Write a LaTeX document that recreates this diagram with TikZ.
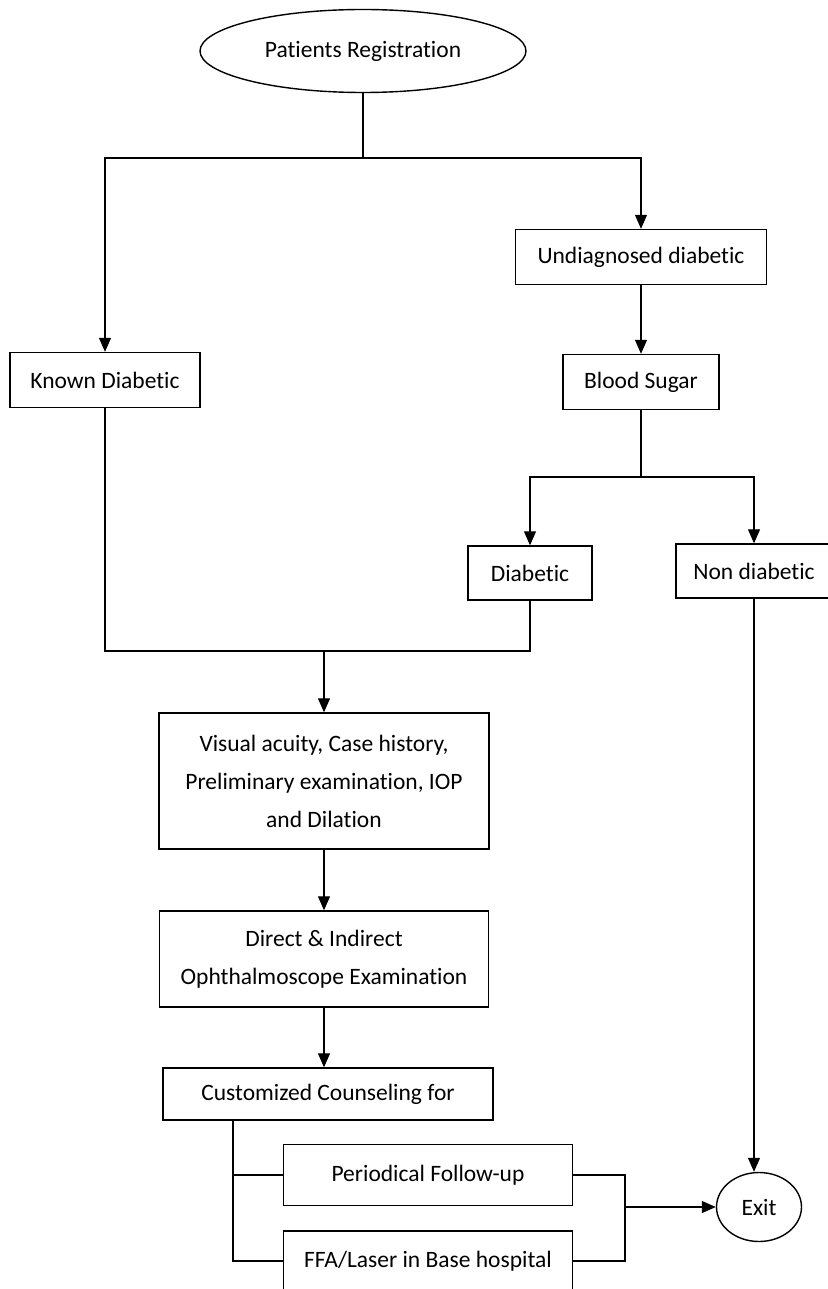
\documentclass[tikz,border=0pt]{standalone}
\usepackage{fontspec}
\setmainfont{Carlito}[Ligatures=NoCommon]
\usetikzlibrary{arrows.meta, positioning, shapes.geometric, calc}
\tikzset{
  every picture/.style={font=\fontsize{23.5}{38}\selectfont, line width=1.1pt},
  box/.style={draw, line width=1.4pt, align=center, inner sep=0pt, minimum width=#1, minimum height=55pt},
  box/.default=190pt,
  oval/.style={draw, ellipse, line width=1.4pt, inner sep=0pt},
  arrow/.style={-{Triangle[length=14pt, width=12pt]}, line width=1.1pt},
}

\begin{document}
\begin{tikzpicture}[x=1pt, y=-1pt]
  \useasboundingbox (0,0) rectangle (827,1289);
  % boxes
  \node[oval, minimum width=326pt, minimum height=83pt] (reg) at (363,51) {Patients Registration};
  \node[box=190pt] (known) at (105,380) {Known Diabetic};
  \node[box=251pt] (undiag) at (641,257) {Undiagnosed diabetic};
  \node[box=156pt] (blood) at (641,382) {Blood Sugar};
  \node[box=124pt, minimum height=54pt] (diab) at (530,573) {Diabetic};
  \node[box=156pt, minimum height=54pt] (nondiab) at (754,571) {Non diabetic};
  \node[box=330pt, minimum height=136pt] (visual) at (324,781) {Visual acuity, Case history,\\Preliminary examination, IOP\\and Dilation};
  \node[box=329pt, minimum height=96pt] (direct) at (324,959) {Direct \& Indirect\\Ophthalmoscope Examination};
  \node[box=330pt, minimum height=52pt] (couns) at (328,1094) {Customized Counseling for};
  \node[box=289pt, minimum height=61pt] (period) at (428,1175) {Periodical Follow-up};
  \node[box=289pt, minimum height=60pt] (ffa) at (428,1261) {FFA/Laser in Base hospital};
  \node[oval, minimum width=85pt, minimum height=69pt] (exit) at (759,1207) {Exit};
  % junctions
  \coordinate (j1) at (363,158);
  \coordinate (j2) at (641,477);
  \coordinate (j3) at (324,651);
  \coordinate (tr) at (233,1120);
  \coordinate (mg) at (625,1207);
  % connectors
  \draw[arrow] (reg.south) -- (j1) -| (known.north);
  \draw[arrow] (j1) -| (undiag.north);
  \draw[arrow] (undiag) -- (blood);
  \draw (blood.south) -- (j2);
  \draw[arrow] (j2) -| (diab.north);
  \draw[arrow] (j2) -| (nondiab.north);
  \draw (known.south) |- (j3) -| (diab.south);
  \draw[arrow] (j3) -- (visual.north);
  \draw[arrow] (visual) -- (direct);
  \draw[arrow] (direct.south) -- (direct.south |- couns.north);
  \draw (tr) |- (ffa.west);
  \draw (tr |- period.west) -- (period.west);
  \draw (period.east) -| (mg) |- (ffa.east);
  \draw[arrow] (mg) -- (exit.west);
  \draw[arrow] (nondiab.south) -- (nondiab.south |- exit.north);
\end{tikzpicture}
\end{document}
